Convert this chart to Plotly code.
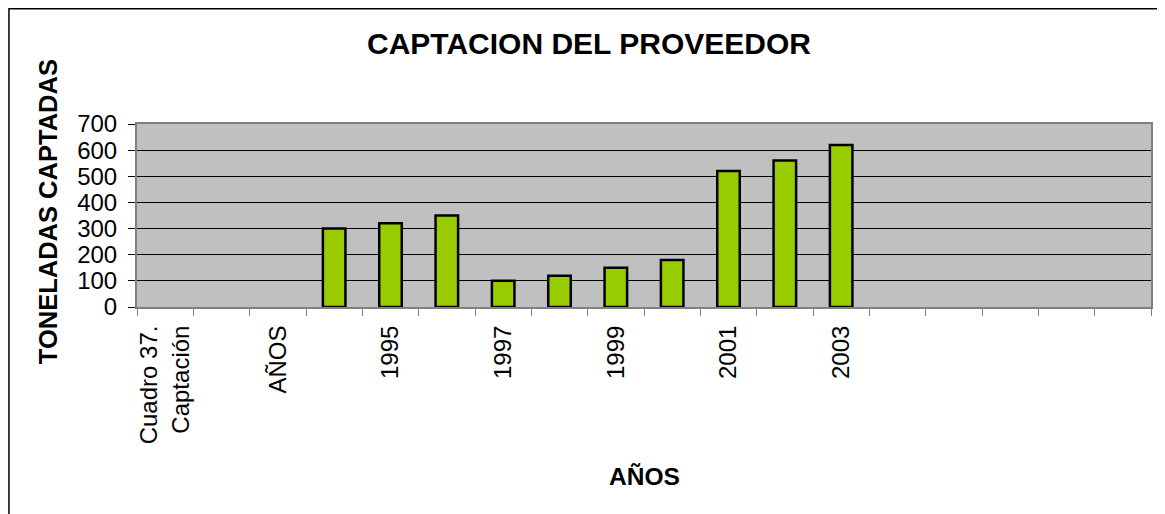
import plotly.graph_objects as go

# categorias del eje x tal como salen en la hoja (incluye celdas de encabezado)
categories = ["Cuadro 37.<br>Captación", "", "AÑOS", "1994", "1995", "1996", "1997",
              "1998", "1999", "2000", "2001", "2002", "2003", "", "", "", "", ""]
toneladas = [None, None, None, 300, 320, 350, 100, 120, 150, 180, 520, 560, 620,
             None, None, None, None, None]
y_ticks = [0, 100, 200, 300, 400, 500, 600, 700]

FONT = "Liberation Sans, Arial, sans-serif"

x = list(range(len(categories)))

# the page body has an 8px margin, so the figure is 8px smaller and margins shifted
fig = go.Figure()
fig.add_trace(go.Bar(x=x, y=toneladas, width=0.4,
                     marker=dict(color="#99CC00", line=dict(color="black", width=2.5))))

fig.update_layout(
    width=1157, height=506,
    margin=dict(l=129, r=12, t=116, b=207),
    paper_bgcolor="white", plot_bgcolor="#C0C0C0",
    showlegend=False,
    font=dict(family=FONT, size=24, color="black"),
)

fig.update_xaxes(
    range=[-0.5, len(categories) - 0.5],
    tickmode="array", tickvals=x[::2], ticktext=categories[::2],
    tickangle=-90, ticks="", ticklabelstandoff=7,
    showgrid=False, zeroline=False,
    showline=True, linecolor="#808080", linewidth=2, mirror=True,
    minor=dict(tickmode="array", tickvals=[i - 0.5 for i in range(len(categories) + 1)],
               ticks="outside", ticklen=7, tickcolor="#808080", tickwidth=1, showgrid=False),
)
fig.update_yaxes(
    range=[0, 700], tickmode="array", tickvals=y_ticks,
    ticks="outside", ticklen=7, tickcolor="black", ticklabelstandoff=6,
    showgrid=True, gridcolor="black", gridwidth=1.2, zeroline=False,
    showline=True, linecolor="#808080", linewidth=2, mirror=True,
)

# titulo y rotulos de ejes
fig.add_annotation(text="<b>CAPTACION DEL PROVEEDOR</b>", xref="paper", yref="paper",
                   x=(590 - 137) / 1016, y=(307 - 44) / 183, showarrow=False,
                   font=dict(size=30), xanchor="center", yanchor="middle")
fig.add_annotation(text="<b>TONELADAS CAPTADAS</b>", xref="paper", yref="paper",
                   x=(48 - 137) / 1016, y=(307 - 212) / 183, showarrow=False,
                   textangle=-90, font=dict(size=25.5), xanchor="center", yanchor="middle")
fig.add_annotation(text="<b>AÑOS</b>", xref="paper", yref="paper",
                   x=0.5, y=(307 - 476) / 183, showarrow=False,
                   font=dict(size=24.5), xanchor="center", yanchor="middle")

# marco del grafico
fig.add_shape(type="rect", xref="paper", yref="paper",
              x0=(8.7 - 137) / 1016, x1=(1185 - 137) / 1016,
              y0=(307 - 540) / 183, y1=(307 - 8.7) / 183,
              line=dict(color="black", width=1.5), layer="below")

fig.write_html("out.html")
